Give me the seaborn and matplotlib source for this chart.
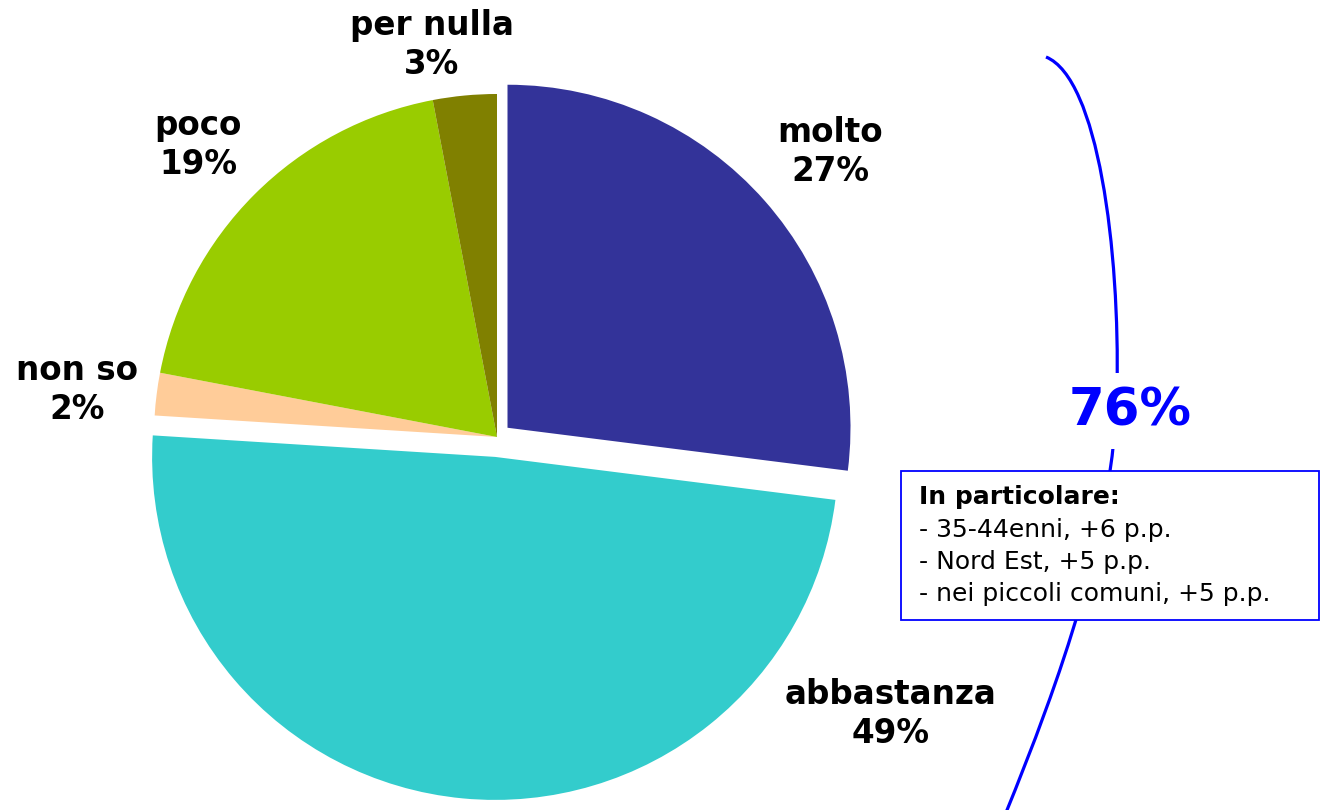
import matplotlib
matplotlib.use("Agg")
import matplotlib.pyplot as plt
import seaborn as sns
from matplotlib.patches import Rectangle, PathPatch
from matplotlib.path import Path

# data
categories = ["molto", "abbastanza", "non so", "poco", "per nulla"]
values = [27, 49, 2, 19, 3]
colors = ["#333399", "#33CCCC", "#FFCC99", "#99CC00", "#808000"]
explode = [14, 20, 0, 0, 0]  # in pixels, pie explode is in data units
total_label = "76%"
note_title = "In particolare:"
note_lines = ["- 35-44enni, +6 p.p.", "- Nord Est, +5 p.p.", "- nei piccoli comuni, +5 p.p."]

sns.set_style("white")
plt.rcParams["font.family"] = ["DejaVu Sans"]
plt.rcParams["text.color"] = "black"

W, H = 1322, 810
fig = plt.figure(figsize=(W / 100, H / 100), dpi=100)
ax = fig.add_axes([0, 0, 1, 1])

# y axis is inverted, so start at -90 and go "counterclock" to look clockwise
ax.pie(values, colors=sns.color_palette(colors), explode=explode,
       startangle=-90, counterclock=True, center=(497, 437), radius=343,
       wedgeprops=dict(linewidth=0), frame=True)
ax.set_xlim(0, W)
ax.set_ylim(H, 0)
ax.set_aspect("equal")
ax.axis("off")

# slice labels
label_pos = [(830, 152), (891, 714), (77, 390), (198, 145), (432, 45)]
for cat, v, (x, y) in zip(categories, values, label_pos):
    ax.text(x, y, f"{cat}\n{v}%", ha="center", va="center", fontsize=23.5,
            fontweight="bold", linespacing=1.22, color="black")

# blue bracket
verts = [(1046, 57), (1098, 78), (1120, 250), (1117, 390),
         (1114, 530), (1060, 680), (1005, 815)]
codes = [Path.MOVETO] + [Path.CURVE4] * 6
ax.add_patch(PathPatch(Path(verts, codes), fill=False, edgecolor="#0000FF", lw=2.3, zorder=3))

ax.text(1130, 411, total_label, ha="center", va="center", fontsize=37,
        fontweight="bold", color="#0000FF", zorder=4,
        bbox=dict(boxstyle="square,pad=0.25", fc="white", ec="none"))

# note box
ax.add_patch(Rectangle((901, 471), 418, 149, fc="white", ec="#0000FF", lw=1.3, zorder=5))
ax.text(919, 497, note_title, ha="left", va="center", fontsize=18,
        fontweight="bold", color="black", zorder=6)
for i, line in enumerate(note_lines):
    ax.text(919, 530 + i * 32, line, ha="left", va="center", fontsize=18,
            color="black", zorder=6)

fig.savefig("out.png", dpi=100)
